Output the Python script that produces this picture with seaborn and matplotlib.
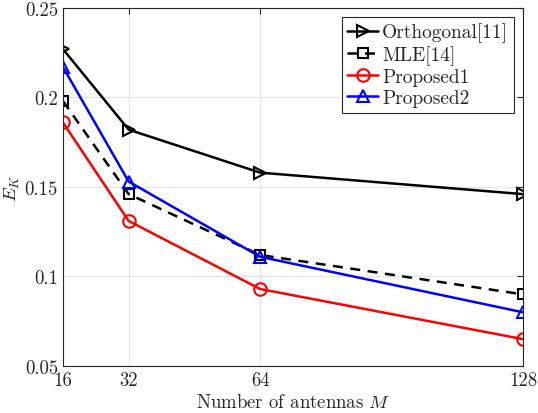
import matplotlib
matplotlib.use("Agg")
import matplotlib.pyplot as plt
import seaborn as sns
import pandas as pd

antennas = [16, 32, 64, 128]
orthogonal = [0.227, 0.182, 0.158, 0.146]
mle = [0.198, 0.146, 0.112, 0.090]
proposed1 = [0.186, 0.131, 0.093, 0.065]
proposed2 = [0.217, 0.153, 0.111, 0.080]
series_names = ["Orthogonal[11]", "MLE[14]", "Proposed1", "Proposed2"]
y_ticks = [0.05, 0.1, 0.15, 0.2, 0.25]
y_tick_labels = ["0.05", "0.1", "0.15", "0.2", "0.25"]

sns.set_style("white")
plt.rcParams["font.family"] = ["cmr10", "DejaVu Serif"]
plt.rcParams["mathtext.fontset"] = "cm"
plt.rcParams["axes.formatter.use_mathtext"] = True

fig = plt.figure(figsize=(5.38, 4.14), dpi=100)
ax = fig.add_axes([0.117, 0.1135, 0.855, 0.865])

styles = [
    dict(color="black", marker=">", ls="-"),
    dict(color="black", marker="s", ls=(0, (4, 3))),
    dict(color="red", marker="o", ls="-"),
    dict(color="blue", marker="^", ls="-"),
]
values = [orthogonal, mle, proposed1, proposed2]
for name, vals, st in zip(series_names, values, styles):
    df = pd.DataFrame({"M": antennas, "E": vals})
    sns.lineplot(data=df, x="M", y="E", ax=ax, color=st["color"],
                 marker=st["marker"], linestyle=st["ls"], linewidth=1.8,
                 markersize=9 if st["marker"] != "s" else 7,
                 markerfacecolor="none", markeredgecolor=st["color"],
                 markeredgewidth=1.5, label=name)

ax.set_xlim(16, 128)
ax.set_ylim(0.05, 0.25)
ax.set_xticks(antennas)
ax.set_xticklabels([str(a) for a in antennas])
ax.set_yticks(y_ticks)
ax.set_yticklabels(y_tick_labels)
ax.grid(True, color="#e3e3e3", linewidth=0.8)
ax.set_axisbelow(True)
for s in ax.spines.values():
    s.set_color("#262626")
    s.set_linewidth(0.8)
ax.tick_params(direction="in", top=True, right=True, length=4, width=0.8,
               colors="#262626", labelsize=13.5, labelcolor="#262626")
ax.set_xlabel("Number of antennas $M$", fontsize=13.5, color="#262626", labelpad=3)
ax.set_ylabel("$E_K$", fontsize=13.5, color="#262626", labelpad=2)

leg = ax.legend(loc="upper right", fontsize=14, frameon=True, fancybox=False,
                edgecolor="#262626", framealpha=1, handlelength=1.6,
                handletextpad=0.2, borderpad=0.3, labelspacing=0.15,
                borderaxespad=0.45)
leg.get_frame().set_linewidth(0.8)

fig.savefig("out.png", dpi=100)
